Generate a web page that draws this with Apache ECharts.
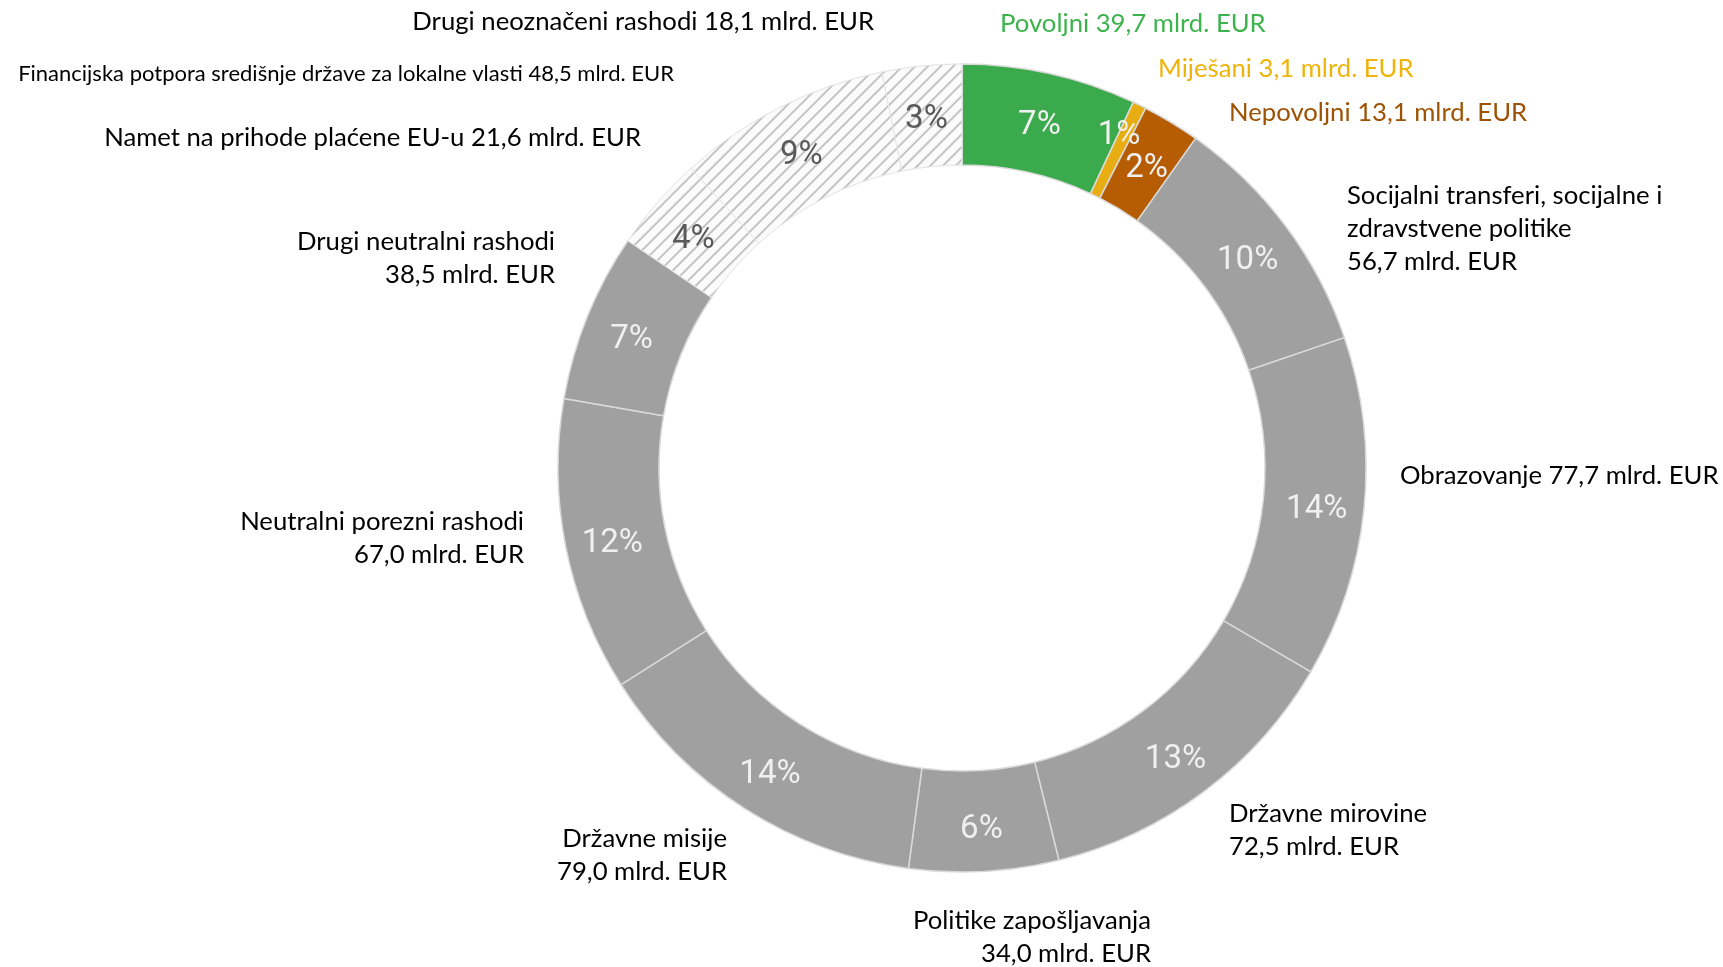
<!DOCTYPE html>
<html>
<head>
<meta charset="utf-8">
<script src="https://cdn.jsdelivr.net/npm/echarts@6/dist/echarts.min.js"></script>
<style>
  html, body { margin: 0; padding: 0; background: #fff; }
  #chart { width: 1723px; height: 967px; }
</style>
</head>
<body>
<div id="chart"></div>
<script>
// slices clockwise from 12 o'clock
const categories = [
  "Povoljni",
  "Miješani",
  "Nepovoljni",
  "Socijalni transferi, socijalne i\nzdravstvene politike",
  "Obrazovanje",
  "Državne mirovine",
  "Politike zapošljavanja",
  "Državne misije",
  "Neutralni porezni rashodi",
  "Drugi neutralni rashodi",
  "Namet na prihode plaćene EU-u",
  "Financijska potpora središnje države za lokalne vlasti",
  "Drugi neoznačeni rashodi",
];
const values = [39.7, 3.1, 13.1, 56.7, 77.7, 72.5, 34.0, 79.0, 67.0, 38.5, 21.6, 48.5, 18.1];

// styling, kept apart from the data
const sliceColors = ["#3aaa4c", "#e8ad12", "#b65c02", "#a0a0a0", "#a0a0a0", "#a0a0a0", "#a0a0a0",
  "#a0a0a0", "#a0a0a0", "#a0a0a0", "#fbfbfb", "#fbfbfb", "#fbfbfb"];
const labelColors = ["#3db34d", "#efb40a", "#9e5203", "#000", "#000", "#000", "#000",
  "#000", "#000", "#000", "#000", "#000", "#000"];
const hatched = [10, 11, 12];
const valueOnNewLine = [3, 5, 6, 7, 8, 9];

// where each outside label sits (x, middle y)
const labelSpots = [
  { x: 1000, y: 24, align: "left" },
  { x: 1158, y: 69, align: "left" },
  { x: 1229, y: 113, align: "left" },
  { x: 1347, y: 229, align: "left" },
  { x: 1400, y: 476, align: "left" },
  { x: 1229, y: 830, align: "left" },
  { x: 1151, y: 937, align: "right" },
  { x: 727, y: 855, align: "right" },
  { x: 524, y: 538, align: "right" },
  { x: 555, y: 258, align: "right" },
  { x: 641, y: 138, align: "right" },
  { x: 674, y: 74, align: "right" },
  { x: 874, y: 22, align: "right" },
];
// the tiny "Miješani" slice: its percent sits on top of the slice edge
const tinySlice = 1;
const tinySpot = { x: 1119, y: 136 };

const fmt = (v) => v.toFixed(1).replace(".", ",") + " mlrd. EUR";

const ringData = categories.map((name, i) => {
  const isHatch = hatched.includes(i);
  return {
    name: name,
    value: values[i],
    itemStyle: isHatch
      ? {
          color: sliceColors[i],
          borderColor: "#e6e6e6",
          borderWidth: 1,
          decal: {
            symbol: "rect",
            color: "#c4c4c4",
            backgroundColor: "#fbfbfb",
            dashArrayX: [1, 0],
            dashArrayY: [1.5, 7],
            rotation: -Math.PI / 4,
          },
        }
      : { color: sliceColors[i], borderColor: "#d9d9d9", borderWidth: 1.5 },
    label: {
      color: isHatch ? "#5a5a5a" : "#f0f0f0",
      position: i === tinySlice ? "outside" : "inside",
    },
  };
});

const labelData = categories.map((name, i) => ({
  name: name,
  value: values[i],
  label: {
    color: labelColors[i],
    fontSize: i === 11 ? 22 : 25.7,
    align: labelSpots[i].align,
  },
}));

const chart = echarts.init(document.getElementById("chart"));

chart.setOption({
  animation: false,
  series: [
    {
      type: "pie",
      center: [962, 468],
      radius: [303, 404],
      startAngle: 90,
      clockwise: true,
      avoidLabelOverlap: false,
      silent: true,
      data: ringData,
      label: {
        show: true,
        fontFamily: "Roboto",
        fontSize: 33,
        offset: [0, 6],
        formatter: (p) => Math.round(p.percent) + "%",
      },
      labelLine: { show: false },
      labelLayout: (params) => {
        if (params.dataIndex !== tinySlice) return {};
        return { x: tinySpot.x, y: tinySpot.y, align: "center", verticalAlign: "middle" };
      },
    },
    {
      type: "pie",
      center: [962, 468],
      radius: [303, 404],
      startAngle: 90,
      clockwise: true,
      avoidLabelOverlap: false,
      silent: true,
      itemStyle: { color: "rgba(0,0,0,0)" },
      data: labelData,
      label: {
        show: true,
        position: "outside",
        fontFamily: "Lato",
        lineHeight: 33,
        formatter: (p) =>
          p.name + (valueOnNewLine.includes(p.dataIndex) ? "\n" : " ") + fmt(p.value),
      },
      labelLine: { show: false },
      labelLayout: (params) => {
        const s = labelSpots[params.dataIndex];
        return { x: s.x, y: s.y, align: s.align, verticalAlign: "middle" };
      },
    },
  ],
});

window.addEventListener("resize", chart.resize);
</script>
</body>
</html>
